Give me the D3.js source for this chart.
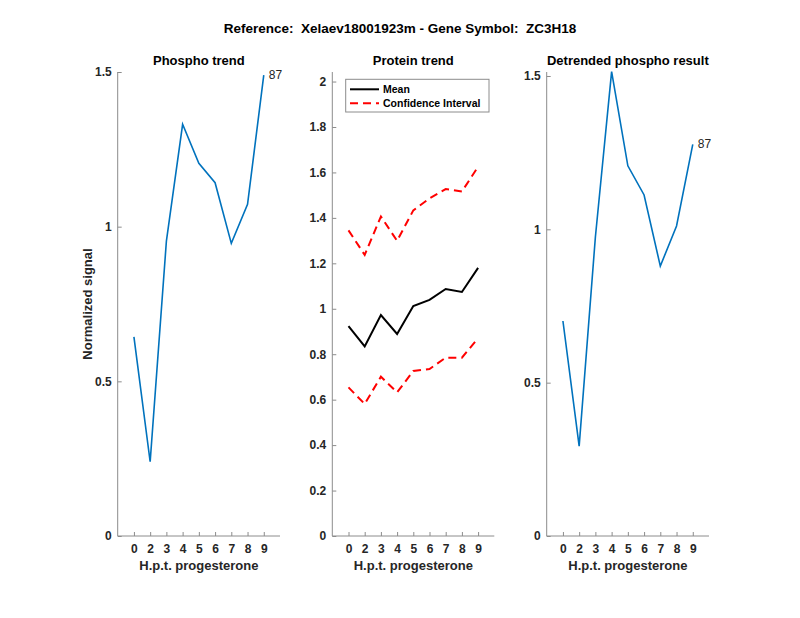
<!DOCTYPE html>
<html>
<head>
<meta charset="utf-8">
<script src="https://cdn.jsdelivr.net/npm/d3@7/dist/d3.min.js"></script>
<style>
  body { margin: 0; background: #fff; }
  text { font-family: "Liberation Sans", Arial, sans-serif; white-space: pre; }
</style>
</head>
<body>
<svg id="chart" width="800" height="618"></svg>
<script>
// values
var hptLabels = ["0", "2", "3", "4", "5", "6", "7", "8", "9"];
var hptIndex = [1, 2, 3, 4, 5, 6, 7, 8, 9];

var phospho = [0.644, 0.240, 0.953, 1.331, 1.205, 1.142, 0.946, 1.072, 1.490];
var proteinMean = [0.924, 0.834, 0.972, 0.889, 1.012, 1.039, 1.087, 1.074, 1.180];
var proteinUpper = [1.345, 1.237, 1.406, 1.299, 1.433, 1.486, 1.527, 1.516, 1.625];
var proteinLower = [0.654, 0.581, 0.701, 0.632, 0.726, 0.735, 0.785, 0.785, 0.870];
var detrended = [0.701, 0.293, 0.975, 1.514, 1.207, 1.112, 0.880, 1.011, 1.277];

var phosphoTicks = [0, 0.5, 1, 1.5];
var proteinTicks = [0, 0.2, 0.4, 0.6, 0.8, 1, 1.2, 1.4, 1.6, 1.8, 2];
var detrendedTicks = [0, 0.5, 1, 1.5];

var seriesId = "87";
var mainTitle = "Reference:  Xelaev18001923m - Gene Symbol:  ZC3H18";

var svg = d3.select("#chart");
var axisColor = "#8c8c8c";
var textColor = "#262626";
var blue = "#0072BD";

var yTop = 72, yBottom = 536;

svg.append("text")
    .attr("x", 400).attr("y", 33)
    .attr("text-anchor", "middle")
    .attr("font-size", "13.5px").attr("font-weight", "bold")
    .attr("fill", "#000")
    .text(mainTitle);

function drawPanel(left, right, yMax, yTicks, title) {
    var x = d3.scaleLinear().domain([0, 10]).range([left, right]);
    var y = d3.scaleLinear().domain([0, yMax]).range([yBottom, yTop]);
    var g = svg.append("g");

    var xAxis = g.append("g")
        .attr("transform", "translate(0," + yBottom + ")")
        .call(d3.axisBottom(x).tickValues(hptIndex)
            .tickFormat(function (d, i) { return hptLabels[i]; })
            .tickSizeInner(-4).tickSizeOuter(0).tickPadding(8));
    var yAxis = g.append("g")
        .attr("transform", "translate(" + left + ",0)")
        .call(d3.axisLeft(y).tickValues(yTicks)
            .tickFormat(d3.format("~g"))
            .tickSizeInner(-4).tickSizeOuter(0).tickPadding(6));

    [xAxis, yAxis].forEach(function (a) {
        a.select(".domain").attr("stroke", axisColor);
        a.selectAll(".tick line").attr("stroke", axisColor);
        a.selectAll(".tick text")
            .attr("fill", textColor)
            .attr("font-size", "12px")
            .attr("font-weight", "bold")
            .attr("font-family", "Liberation Sans, Arial, sans-serif");
    });
    yAxis.select(".domain").attr("d", "M0," + yTop + "V" + yBottom);
    xAxis.select(".domain").attr("d", "M" + left + ",0H" + right);

    g.append("text")
        .attr("x", (left + right) / 2).attr("y", 570)
        .attr("text-anchor", "middle")
        .attr("font-size", "13px").attr("font-weight", "bold")
        .attr("fill", textColor)
        .text("H.p.t. progesterone");

    g.append("text")
        .attr("x", (left + right) / 2).attr("y", 65)
        .attr("text-anchor", "middle")
        .attr("font-size", "13px").attr("font-weight", "bold")
        .attr("fill", "#000")
        .text(title);

    return {g: g, x: x, y: y};
}

function addLine(p, values, color, width, dash) {
    var line = d3.line()
        .x(function (d, i) { return p.x(hptIndex[i]); })
        .y(function (d) { return p.y(d); });
    p.g.append("path")
        .datum(values)
        .attr("d", line)
        .attr("fill", "none")
        .attr("stroke", color)
        .attr("stroke-width", width)
        .attr("stroke-dasharray", dash || null);
}

function addEndLabel(p, values) {
    var n = values.length - 1;
    p.g.append("text")
        .attr("x", p.x(hptIndex[n]) + 5)
        .attr("y", p.y(values[n]) + 4)
        .attr("font-size", "12px")
        .attr("fill", textColor)
        .text(seriesId);
}

// phospho trend
var p1 = drawPanel(117.7, 280, 1.5, phosphoTicks, "Phospho trend");
addLine(p1, phospho, blue, 1.6);
addEndLabel(p1, phospho);
p1.g.append("text")
    .attr("transform", "translate(92,304) rotate(-90)")
    .attr("text-anchor", "middle")
    .attr("font-size", "13px").attr("font-weight", "bold")
    .attr("fill", textColor)
    .text("Normalized signal");

// protein trend
var p2 = drawPanel(332.3, 494.3, 2.042, proteinTicks, "Protein trend");
addLine(p2, proteinUpper, "#ff0000", 2, "8,5");
addLine(p2, proteinLower, "#ff0000", 2, "8,5");
addLine(p2, proteinMean, "#000", 2);

var leg = p2.g.append("g");
leg.append("rect")
    .attr("x", 345.7).attr("y", 79.3).attr("width", 143.3).attr("height", 32.7)
    .attr("fill", "#fff").attr("stroke", axisColor).attr("stroke-width", 1);
leg.append("line").attr("x1", 350).attr("x2", 379).attr("y1", 89.3).attr("y2", 89.3)
    .attr("stroke", "#000").attr("stroke-width", 2);
leg.append("line").attr("x1", 350).attr("x2", 379).attr("y1", 103.3).attr("y2", 103.3)
    .attr("stroke", "#ff0000").attr("stroke-width", 2).attr("stroke-dasharray", "8,5");
leg.append("text").attr("x", 383).attr("y", 93.3)
    .attr("font-size", "10.5px").attr("font-weight", "bold").attr("fill", "#000").text("Mean");
leg.append("text").attr("x", 383).attr("y", 107.3)
    .attr("font-size", "10.5px").attr("font-weight", "bold").attr("fill", "#000").text("Confidence Interval");

// detrended phospho
var p3 = drawPanel(546.7, 709, 1.513, detrendedTicks, "Detrended phospho result");
addLine(p3, detrended, blue, 1.6);
addEndLabel(p3, detrended);
</script>
</body>
</html>
